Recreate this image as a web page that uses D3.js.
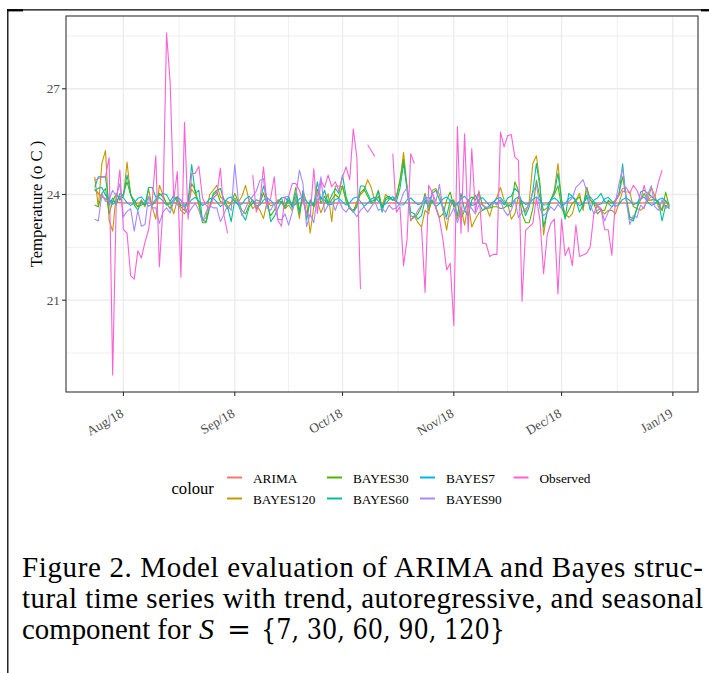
<!DOCTYPE html>
<html>
<head>
<meta charset="utf-8">
<script src="https://cdn.jsdelivr.net/npm/d3@7"></script>
<style>
  body { margin: 0; background: #fff; }
  svg { display: block; }
</style>
</head>
<body>
<div id="chart"></div>
<script>
// daily series, Jul 24 2018 .. Dec 31 2018
var startDate = "2018-07-24";
var seriesNames = ["ARIMA", "BAYES120", "BAYES30", "BAYES60", "BAYES7", "BAYES90", "Observed"];
var seriesColors = ["#F8766D", "#C49A00", "#53B400", "#00C094", "#00B6EB", "#A58AFF", "#FB61D7"];
var yTicks = [21, 24, 27];
var yMinorTicks = [19.5, 22.5, 25.5, 28.5];
var xTickDates = ["2018-08-01", "2018-09-01", "2018-10-01", "2018-11-01", "2018-12-01", "2019-01-01"];
var xTickLabels = ["Aug/18", "Sep/18", "Oct/18", "Nov/18", "Dec/18", "Jan/19"];

var arima = [
  24.15, 24.03, 23.94, 23.88, 23.83, 23.80, 23.78, 23.77, 23.76, 23.76,
  23.76, 23.76, 23.76, 23.76, 23.76, 23.76, 23.76, 23.76, 23.76, 23.76,
  23.76, 23.76, 23.76, 23.76, 23.76, 23.76, 23.76, 23.76, 23.76, 23.76,
  23.76, 23.76, 23.76, 23.76, 23.76, 23.76, 23.76, 23.76, 23.76, 23.76,
  23.76, 23.76, 23.76, 23.76, 23.76, 23.76, 23.76, 23.76, 23.76, 23.76,
  23.76, 23.76, 23.76, 23.76, 23.76, 23.76, 23.76, 23.76, 23.76, 23.76,
  23.76, 23.76, 23.76, 23.76, 23.76, 23.76, 23.76, 23.76, 23.76, 23.76,
  23.76, 23.76, 23.76, 23.76, 23.76, 23.76, 23.76, 23.76, 23.76, 23.76,
  23.76, 23.76, 23.76, 23.76, 23.76, 23.76, 23.76, 23.76, 23.76, 23.76,
  23.76, 23.76, 23.76, 23.76, 23.76, 23.76, 23.76, 23.76, 23.76, 23.76,
  23.76, 23.76, 23.76, 23.76, 23.76, 23.76, 23.76, 23.76, 23.76, 23.76,
  23.76, 23.76, 23.76, 23.76, 23.76, 23.76, 23.76, 23.76, 23.76, 23.76,
  23.76, 23.76, 23.76, 23.76, 23.76, 23.76, 23.76, 23.76, 23.76, 23.76,
  23.76, 23.76, 23.76, 23.76, 23.76, 23.76, 23.76, 23.76, 23.76, 23.76,
  23.76, 23.76, 23.76, 23.76, 23.76, 23.76, 23.76, 23.76, 23.76, 23.76,
  23.76, 23.76, 23.76, 23.76, 23.76, 23.76, 23.76, 23.76, 23.76, 23.76,
  23.76
];

var bayes120 = [
  24.50, 23.65, 24.88, 25.25, 23.27, 22.96, 24.03, 23.85, 23.95, 24.92,
  24.00, 23.75, 23.65, 23.85, 23.65, 24.15, 23.65, 23.30, 24.26, 24.00,
  23.72, 23.77, 23.45, 23.85, 23.55, 23.45, 23.65, 24.15, 24.00, 23.77,
  23.25, 23.35, 24.00, 24.12, 24.26, 23.93, 23.85, 23.80, 23.75, 23.90,
  23.78, 23.95, 24.26, 23.82, 23.60, 23.70, 23.55, 23.32, 23.80, 23.68,
  23.72, 23.85, 23.78, 23.60, 23.70, 23.55, 23.88, 23.32, 24.10, 23.78,
  22.90, 23.65, 23.80, 23.48, 23.75, 24.02, 23.23, 24.24, 24.24, 24.22,
  23.88, 23.60, 23.50, 23.80, 24.00, 24.10, 24.42, 24.20, 23.80, 24.12,
  23.65, 24.00, 23.90, 23.84, 23.90, 24.36, 25.20, 24.20, 23.25, 23.40,
  23.20, 23.08, 23.55, 23.45, 24.12, 24.17, 24.00, 23.55, 22.99, 23.65,
  23.85, 23.31, 23.65, 23.13, 23.75, 23.08, 23.30, 23.48, 23.55, 23.65,
  23.38, 23.75, 23.93, 24.20, 23.84, 23.75, 23.30, 23.45, 23.95, 23.70,
  23.50, 23.80, 24.88, 25.10, 24.30, 22.85, 23.55, 23.84, 24.12, 24.88,
  23.84, 23.45, 23.35, 23.45, 23.84, 24.03, 23.55, 24.20, 23.84, 23.75,
  23.65, 23.55, 23.45, 23.55, 23.55, 23.45, 23.75, 24.10, 24.07, 24.07,
  23.65, 23.60, 23.55, 23.65, 23.84, 24.20, 23.95, 23.65, 23.55, 23.84,
  23.60
];

var bayes30 = [
  23.70, 23.65, 24.03, 24.17, 23.45, 23.80, 24.03, 23.84, 24.03, 24.36,
  23.98, 23.84, 23.65, 23.70, 23.75, 23.93, 23.70, 23.80, 24.03, 23.93,
  23.75, 23.60, 23.80, 23.93, 23.65, 23.55, 23.84, 24.31, 24.12, 23.70,
  23.20, 23.20, 23.65, 23.98, 24.07, 23.80, 23.75, 23.60, 23.75, 24.03,
  23.80, 23.55, 23.45, 23.70, 23.85, 23.60, 23.75, 24.05, 23.70, 23.40,
  23.55, 23.80, 23.90, 23.60, 23.85, 23.70, 24.20, 23.55, 23.90, 23.45,
  23.80, 23.65, 24.15, 23.75, 23.95, 23.70, 23.85, 24.00, 23.90, 24.25,
  23.80, 23.60, 23.55, 23.70, 24.05, 24.15, 23.95, 23.75, 23.80, 23.95,
  23.60, 23.85, 23.90, 23.84, 23.95, 24.40, 25.00, 24.10, 23.40, 23.35,
  23.45, 23.65, 24.03, 23.55, 23.84, 23.65, 23.35, 23.45, 23.84, 24.07,
  23.65, 23.75, 23.30, 23.55, 23.84, 23.93, 23.84, 24.07, 23.70, 23.60,
  23.62, 23.65, 23.65, 23.60, 23.62, 23.70, 23.65, 24.36, 24.10, 23.45,
  23.20, 23.20, 23.60, 24.40, 23.90, 23.55, 23.62, 23.84, 24.00, 24.25,
  23.65, 23.35, 23.55, 23.75, 23.84, 23.93, 23.65, 24.20, 23.84, 23.75,
  23.45, 23.55, 23.55, 23.84, 23.75, 23.84, 24.03, 24.50, 23.93, 23.37,
  23.30, 23.62, 23.84, 24.03, 23.84, 23.84, 23.88, 23.75, 23.55, 24.07,
  23.65
];

var bayes60 = [
  24.20, 24.50, 24.50, 24.50, 23.70, 23.90, 23.70, 24.03, 23.98, 24.55,
  24.03, 23.70, 23.56, 23.80, 23.70, 24.20, 24.20, 23.92, 23.98, 24.03,
  24.00, 23.80, 23.98, 23.80, 23.70, 23.65, 23.80, 24.85, 24.03, 24.12,
  23.27, 23.23, 23.65, 24.03, 24.12, 24.17, 23.85, 23.65, 23.23, 23.85,
  23.70, 23.45, 23.27, 23.65, 23.75, 23.85, 23.80, 24.24, 23.90, 23.23,
  23.37, 23.60, 23.80, 23.65, 23.95, 23.62, 24.05, 23.45, 24.12, 23.27,
  23.85, 23.70, 24.36, 23.85, 24.12, 23.75, 23.98, 24.17, 24.03, 24.55,
  23.93, 23.65, 23.50, 23.65, 24.24, 24.24, 24.03, 23.80, 23.85, 24.10,
  23.50, 23.90, 23.95, 23.85, 23.80, 24.17, 24.88, 24.20, 23.50, 23.45,
  23.30, 23.40, 23.84, 23.65, 24.03, 24.12, 23.85, 23.65, 23.37, 23.84,
  23.80, 23.40, 24.03, 23.55, 23.40, 23.84, 23.98, 23.75, 23.55, 23.60,
  23.70, 23.80, 23.75, 23.85, 23.70, 23.90, 23.95, 24.17, 24.07, 23.75,
  23.40, 23.65, 24.10, 24.88, 24.20, 23.08, 23.50, 23.84, 24.05, 24.60,
  23.84, 23.30, 24.03, 23.95, 23.84, 23.50, 23.70, 23.98, 23.55, 23.84,
  23.90, 24.03, 23.80, 23.75, 23.65, 23.80, 23.98, 24.87, 23.84, 23.30,
  23.25, 23.60, 24.07, 24.12, 24.03, 23.95, 23.84, 23.80, 23.25, 23.70,
  23.60
];

var bayes7 = [
  24.10, 24.18, 24.20, 23.98, 23.86, 23.72, 23.80, 23.95, 23.90, 23.77,
  23.69, 23.76, 23.89, 23.93, 23.80, 23.67, 23.73, 23.87, 23.91, 23.82,
  23.70, 23.74, 23.86, 23.94, 23.83, 23.70, 23.72, 23.85, 23.92, 23.81,
  23.69, 23.75, 23.88, 23.90, 23.79, 23.66, 23.74, 23.89, 23.93, 23.80,
  23.71, 23.73, 23.87, 23.95, 23.82, 23.68, 23.70, 23.84, 23.90, 23.83,
  23.72, 23.76, 23.90, 23.92, 23.78, 23.65, 23.73, 23.88, 23.94, 23.81,
  23.68, 23.74, 23.85, 23.91, 23.84, 23.71, 23.72, 23.86, 23.89, 23.79,
  23.70, 23.77, 23.89, 23.93, 23.80, 23.67, 23.75, 23.87, 23.92, 23.82,
  23.69, 23.73, 23.86, 23.94, 23.81, 23.70, 23.71, 23.85, 23.90, 23.80,
  23.71, 23.75, 23.88, 23.92, 23.79, 23.66, 23.74, 23.88, 23.93, 23.83,
  23.70, 23.74, 23.87, 23.95, 23.82, 23.69, 23.72, 23.86, 23.91, 23.80,
  23.68, 23.76, 23.89, 23.91, 23.78, 23.67, 23.73, 23.87, 23.92, 23.81,
  23.72, 23.75, 23.86, 23.93, 23.83, 23.70, 23.71, 23.84, 23.90, 23.82,
  23.69, 23.74, 23.88, 23.94, 23.80, 23.68, 23.75, 23.89, 23.93, 23.80,
  23.70, 23.73, 23.87, 23.92, 23.81, 23.66, 23.72, 23.86, 23.91, 23.83,
  23.71, 23.76, 23.88, 23.93, 23.79, 23.69, 23.74, 23.85, 23.90, 23.81,
  23.72
];

var bayes90 = [
  23.30, 23.25, 24.02, 23.80, 23.85, 24.12, 23.95, 24.31, 23.37, 23.52,
  23.60, 22.96, 23.55, 23.10, 23.15, 23.95, 23.62, 23.62, 23.18, 23.50,
  23.62, 23.48, 23.80, 23.70, 23.86, 23.60, 23.45, 23.62, 23.75, 23.55,
  23.23, 23.50, 23.68, 23.62, 23.62, 23.23, 23.45, 23.68, 23.55, 24.85,
  23.82, 23.40, 23.60, 23.85, 23.95, 24.10, 24.40, 24.45, 23.60, 23.55,
  23.75, 23.30, 23.28, 23.45, 23.13, 23.50, 23.95, 24.69, 24.30, 23.09,
  23.45, 23.20, 23.95, 24.50, 23.50, 23.70, 23.80, 23.55, 23.85, 23.60,
  23.50, 23.65, 23.52, 23.37, 23.55, 23.65, 23.50, 23.65, 23.80, 23.55,
  23.60, 23.50, 23.70, 23.58, 23.62, 23.75, 24.05, 24.20, 23.30, 23.35,
  23.55, 23.70, 23.95, 23.75, 24.05, 23.80, 24.29, 23.55, 23.30, 23.40,
  23.62, 23.20, 23.50, 23.55, 23.75, 23.60, 23.45, 23.70, 23.72, 23.62,
  23.65, 23.78, 23.70, 23.82, 23.55, 23.40, 23.55, 23.85, 23.35, 23.50,
  23.60, 23.70, 24.05, 24.30, 23.60, 23.40, 23.50, 23.65, 23.55, 23.72,
  23.60, 23.75, 23.80, 23.90, 24.20, 24.30, 24.42, 24.10, 23.70, 23.45,
  23.55, 23.60, 23.25, 23.50, 23.65, 23.78, 24.30, 24.75, 23.85, 23.15,
  23.40, 23.35, 23.70, 23.60, 24.00, 24.25, 23.65, 23.55, 23.85, 23.60,
  23.70
];

var observed = [
  24.40, 24.45, 24.50, 24.50, 25.05, 18.88, 23.80, 24.70, 23.00, 22.90,
  21.70, 21.60, 22.40, 22.20, 22.65, 23.00, 23.80, 25.10, 21.95, 23.60,
  28.58, 27.20, 23.85, 24.65, 21.65, 26.05, 23.30, 24.60, 24.60, 24.80,
  23.90, 23.70, 23.60, 23.90, 24.00, 24.75, 23.40, 22.90, null, null,
  null, null, null, null, 24.55, 23.50, 23.80, 24.78, 23.70, 23.90,
  24.50, 23.27, 23.10, 23.93, 23.95, 24.31, 24.31, 24.12, 23.80, 23.46,
  23.37, 24.73, 23.46, 24.40, 24.20, 24.55, 24.22, 24.36, 24.10, 24.50,
  24.78, 24.42, 25.86, 25.06, 21.32, null, 25.41, 25.25, 25.08, null,
  null, null, null, 25.16, 23.50, 23.65, 21.98, 22.75, 25.16, 24.88,
  null, 23.08, 21.22, 24.26, 24.05, 23.60, 23.30, 22.70, 21.86, 22.05,
  20.28, 25.93, 22.90, 25.72, 22.94, 25.30, 23.50, 24.10, 22.62, 22.60,
  22.24, 22.30, 22.30, 25.77, 25.35, 25.67, 25.70, 25.06, 24.97, 20.97,
  22.99, 23.08, 23.18, 23.90, 23.27, 21.75, 22.85, 23.18, 23.30, 21.18,
  23.30, 22.26, 22.50, 21.98, 23.13, 22.24, 22.28, 22.33, 22.52, 23.46,
  23.70, 23.60, 23.00, 23.00, 22.28, 23.84, 23.98, 24.17, 24.20, 24.03,
  24.26, 24.12, 23.84, 24.26, 23.84, 23.93, 23.93, 24.36, 24.69, null,
  null
];

var seriesValues = [arima, bayes120, bayes30, bayes60, bayes7, bayes90, observed];

var W = 709, H = 673;
var panel = { left: 66, right: 698, top: 16, bottom: 392 };
var serif = "'Liberation Serif', 'Times New Roman', serif";

var svg = d3.select("#chart").append("svg")
  .attr("width", W)
  .attr("height", H)
  .style("font-family", serif);

svg.append("rect").attr("width", W).attr("height", H).attr("fill", "#fff");

// page frame bits from the paper crop
svg.append("line").attr("x1", 7).attr("x2", 709).attr("y1", 9.8).attr("y2", 9.8)
  .attr("stroke", "#000").attr("stroke-width", 1.2);
svg.append("line").attr("x1", 7).attr("x2", 23).attr("y1", 10.3).attr("y2", 10.3)
  .attr("stroke", "#000").attr("stroke-width", 2.2);
svg.append("line").attr("x1", 701).attr("x2", 709).attr("y1", 10.3).attr("y2", 10.3)
  .attr("stroke", "#000").attr("stroke-width", 2.2);
svg.append("line").attr("x1", 7.8).attr("x2", 7.8).attr("y1", 9).attr("y2", H)
  .attr("stroke", "#000").attr("stroke-width", 1.3);

var parse = d3.utcParse("%Y-%m-%d");
var t0 = parse(startDate);
var dates = d3.range(arima.length).map(function (i) { return d3.utcDay.offset(t0, i); });

// ggplot style 5% expansion
var tMin = +dates[0], tMax = +dates[dates.length - 1];
var tPad = (tMax - tMin) * 0.05;
var x = d3.scaleUtc()
  .domain([new Date(tMin - tPad), new Date(tMax + tPad)])
  .range([panel.left, panel.right]);

var allVals = [];
seriesValues.forEach(function (s) {
  s.forEach(function (v) { if (v != null) allVals.push(v); });
});
var yLo = d3.min(allVals), yHi = d3.max(allVals);
var yPad = (yHi - yLo) * 0.05;
var y = d3.scaleLinear()
  .domain([yLo - yPad, yHi + yPad])
  .range([panel.bottom, panel.top]);

var xMajor = xTickDates.map(parse);
var xMinor = [];
for (var k = 0; k < xMajor.length - 1; k++) {
  xMinor.push(new Date((+xMajor[k] + +xMajor[k + 1]) / 2));
}

var grid = svg.append("g");
grid.selectAll(".ymin").data(yMinorTicks).enter().append("line")
  .attr("x1", panel.left).attr("x2", panel.right)
  .attr("y1", function (d) { return y(d); }).attr("y2", function (d) { return y(d); })
  .attr("stroke", "#EBEBEB").attr("stroke-width", 0.8);
grid.selectAll(".xmin").data(xMinor).enter().append("line")
  .attr("y1", panel.top).attr("y2", panel.bottom)
  .attr("x1", function (d) { return x(d); }).attr("x2", function (d) { return x(d); })
  .attr("stroke", "#EBEBEB").attr("stroke-width", 0.8);
grid.selectAll(".ymaj").data(yTicks).enter().append("line")
  .attr("x1", panel.left).attr("x2", panel.right)
  .attr("y1", function (d) { return y(d); }).attr("y2", function (d) { return y(d); })
  .attr("stroke", "#EBEBEB").attr("stroke-width", 1.3);
grid.selectAll(".xmaj").data(xMajor).enter().append("line")
  .attr("y1", panel.top).attr("y2", panel.bottom)
  .attr("x1", function (d) { return x(d); }).attr("x2", function (d) { return x(d); })
  .attr("stroke", "#EBEBEB").attr("stroke-width", 1.3);

var line = d3.line()
  .defined(function (d) { return d[1] != null; })
  .x(function (d) { return x(d[0]); })
  .y(function (d) { return y(d[1]); });

svg.append("g").selectAll("path")
  .data(seriesValues)
  .enter()
  .append("path")
  .attr("fill", "none")
  .attr("stroke", function (d, i) { return seriesColors[i]; })
  .attr("stroke-width", function (d, i) { return i === 0 ? 1.6 : 1.1; })
  .attr("stroke-linejoin", "round")
  .attr("d", function (s) {
    return line(s.map(function (v, i) { return [dates[i], v]; }));
  });

svg.append("rect")
  .attr("x", panel.left).attr("y", panel.top)
  .attr("width", panel.right - panel.left).attr("height", panel.bottom - panel.top)
  .attr("fill", "none").attr("stroke", "#333").attr("stroke-width", 1.1);

// axes
var yAxis = svg.append("g");
yAxis.selectAll("line").data(yTicks).enter().append("line")
  .attr("x1", panel.left - 4).attr("x2", panel.left)
  .attr("y1", function (d) { return y(d); }).attr("y2", function (d) { return y(d); })
  .attr("stroke", "#333").attr("stroke-width", 1.1);
yAxis.selectAll("text").data(yTicks).enter().append("text")
  .attr("x", panel.left - 6)
  .attr("y", function (d) { return y(d); })
  .attr("dy", "0.33em")
  .attr("text-anchor", "end")
  .style("font-size", "13.3px")
  .style("fill", "#4D4D4D")
  .text(function (d) { return d; });

var xAxis = svg.append("g");
xAxis.selectAll("line").data(xMajor).enter().append("line")
  .attr("y1", panel.bottom).attr("y2", panel.bottom + 4)
  .attr("x1", function (d) { return x(d); }).attr("x2", function (d) { return x(d); })
  .attr("stroke", "#333").attr("stroke-width", 1.1);
xAxis.selectAll("text").data(xMajor).enter().append("text")
  .attr("transform", function (d) {
    return "translate(" + (x(d) + 1) + "," + (panel.bottom + 24) + ") rotate(-30)";
  })
  .attr("text-anchor", "end")
  .style("font-size", "13.3px")
  .style("fill", "#4D4D4D")
  .text(function (d, i) { return xTickLabels[i]; });

svg.append("text")
  .attr("transform", "translate(42," + ((panel.top + panel.bottom) / 2) + ") rotate(-90)")
  .attr("text-anchor", "middle")
  .style("font-size", "16.6px")
  .style("fill", "#000")
  .text("Temperature (o C )");

// legend, two rows filled by column
var legend = svg.append("g");
var colX = [227, 327, 420, 513.5];
var rowY = [477.5, 498.5];
legend.append("text")
  .attr("x", 171.5).attr("y", 494)
  .style("font-size", "16.6px")
  .text("colour");
var items = legend.selectAll(".item").data(seriesNames).enter().append("g")
  .attr("transform", function (d, i) {
    return "translate(" + colX[Math.floor(i / 2)] + "," + rowY[i % 2] + ")";
  });
items.append("line")
  .attr("x1", 0).attr("x2", 15).attr("y1", 0).attr("y2", 0)
  .attr("stroke", function (d, i) { return seriesColors[i]; })
  .attr("stroke-width", 2);
items.append("text")
  .attr("x", 26).attr("y", 5)
  .style("font-size", "13.3px")
  .text(function (d) { return d; });

// figure caption
var cap = svg.append("g").style("font-size", "29px").style("fill", "#000");
cap.append("text").attr("x", 22).attr("y", 577)
  .attr("textLength", 681).attr("lengthAdjust", "spacing")
  .text("Figure 2. Model evaluation of ARIMA and Bayes struc-");
cap.append("text").attr("x", 22).attr("y", 608)
  .attr("textLength", 681).attr("lengthAdjust", "spacing")
  .text("tural time series with trend, autoregressive, and seasonal");
cap.append("text").attr("x", 22).attr("y", 639)
  .attr("textLength", 169).attr("lengthAdjust", "spacingAndGlyphs")
  .text("component for");
cap.append("text").attr("x", 199).attr("y", 639)
  .style("font-style", "italic").style("font-size", "30px")
  .text("S");
cap.append("text").attr("x", 227).attr("y", 639)
  .attr("textLength", 24).attr("lengthAdjust", "spacingAndGlyphs")
  .style("font-family", "'DejaVu Serif', serif").style("font-size", "27px")
  .text("=");
cap.append("text").attr("x", 261).attr("y", 639)
  .attr("textLength", 244).attr("lengthAdjust", "spacingAndGlyphs")
  .style("font-family", "'DejaVu Serif', serif").style("font-size", "27px")
  .text("{7, 30, 60, 90, 120}");
</script>
</body>
</html>
